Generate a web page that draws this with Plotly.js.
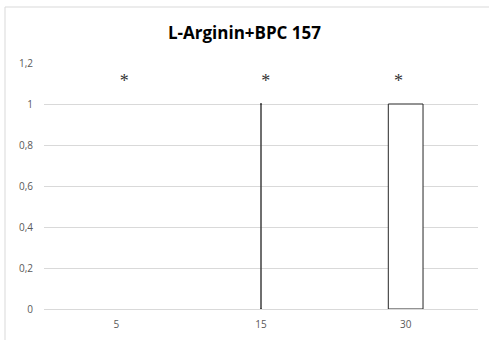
<!DOCTYPE html>
<html>
<head>
<meta charset="utf-8">
<script src="https://cdn.plot.ly/plotly-3.0.1.min.js"></script>
<style>html,body{margin:0;padding:0;background:#fff;}</style>
</head>
<body>
<div id="chart" style="width:489px;height:340px;"></div>
<script>
var categories = ['5', '15', '30'];
var barValues = [0, 0, 1];
var errorPlus = [0, 1, 0];
var starPositions = [0.055, 0.032, -0.05];
var starLevel = [1.105, 1.105, 1.105];
var starText = ['*', '*', '*'];
var yTicks = [0, 0.2, 0.4, 0.6, 0.8, 1, 1.2];
var yTickText = ['0', '0,2', '0,4', '0,6', '0,8', '1', '1,2'];

var catIndex = categories.map(function (c, i) { return i; });
var starX = catIndex.map(function (i) { return i + starPositions[i]; });
var errIdx = catIndex.filter(function (i) { return errorPlus[i] > 0; });

var W = 489, H = 340, ml = 44, mr = 11, mt = 63, mb = 31;
var pw = W - ml - mr, ph = H - mt - mb;
function px(x) { return (x - ml) / pw; }
function py(y) { return (H - mb - y) / ph; }

var traces = [
  {
    type: 'bar',
    x: catIndex,
    y: barValues,
    width: 0.24,
    marker: {color: '#ffffff', line: {color: '#262626', width: barValues.map(function (v) { return v > 0 ? 1 : 0; })}},
    hoverinfo: 'none'
  },
  {
    type: 'scatter',
    mode: 'markers',
    x: errIdx,
    y: errIdx.map(function (i) { return barValues[i]; }),
    marker: {size: 0.1, color: 'rgba(0,0,0,0)'},
    error_y: {type: 'data', symmetric: false,
              array: errIdx.map(function (i) { return errorPlus[i]; }),
              arrayminus: errIdx.map(function () { return 0; }),
              color: '#404040', thickness: 1.5, width: 1},
    cliponaxis: false,
    hoverinfo: 'none'
  },
  {
    type: 'scatter',
    mode: 'text',
    x: starX,
    y: starLevel,
    text: starText,
    textposition: 'middle center',
    textfont: {family: 'Liberation Serif, serif', size: 18, color: '#333333'},
    hoverinfo: 'none'
  }
];

var layout = {
  width: W, height: H,
  margin: {l: ml, r: mr, t: mt, b: mb},
  paper_bgcolor: '#ffffff',
  plot_bgcolor: '#ffffff',
  showlegend: false,
  title: {
    text: '<b>L-Arginin+BPC 157</b>',
    font: {family: 'Open Sans, Liberation Sans, sans-serif', size: 17, color: '#000000'},
    x: 0.5, xanchor: 'center', y: 1 - 33 / H, yanchor: 'middle'
  },
  xaxis: {
    range: [-0.5, 2.5],
    tickvals: catIndex, ticktext: categories,
    showgrid: false, zeroline: false, showline: false, ticks: '',
    ticklabelstandoff: 8,
    tickfont: {family: 'Open Sans, Liberation Sans, sans-serif', size: 10, color: '#595959'}
  },
  yaxis: {
    range: [0, 1.2],
    tickvals: yTicks, ticktext: yTickText,
    showgrid: true, gridcolor: '#d9d9d9', gridwidth: 1,
    zeroline: true, zerolinecolor: '#d9d9d9', zerolinewidth: 1,
    showline: false, ticks: '',
    ticklabelstandoff: 10,
    tickfont: {family: 'Open Sans, Liberation Sans, sans-serif', size: 10, color: '#595959'}
  },
  shapes: [{
    type: 'rect', xref: 'paper', yref: 'paper',
    x0: px(5), x1: px(W + 10), y0: py(H + 10), y1: py(7),
    line: {color: '#d9d9d9', width: 1}, fillcolor: 'rgba(0,0,0,0)', layer: 'below'
  }]
};

Plotly.newPlot('chart', traces, layout, {staticPlot: true, displayModeBar: false});
</script>
</body>
</html>
